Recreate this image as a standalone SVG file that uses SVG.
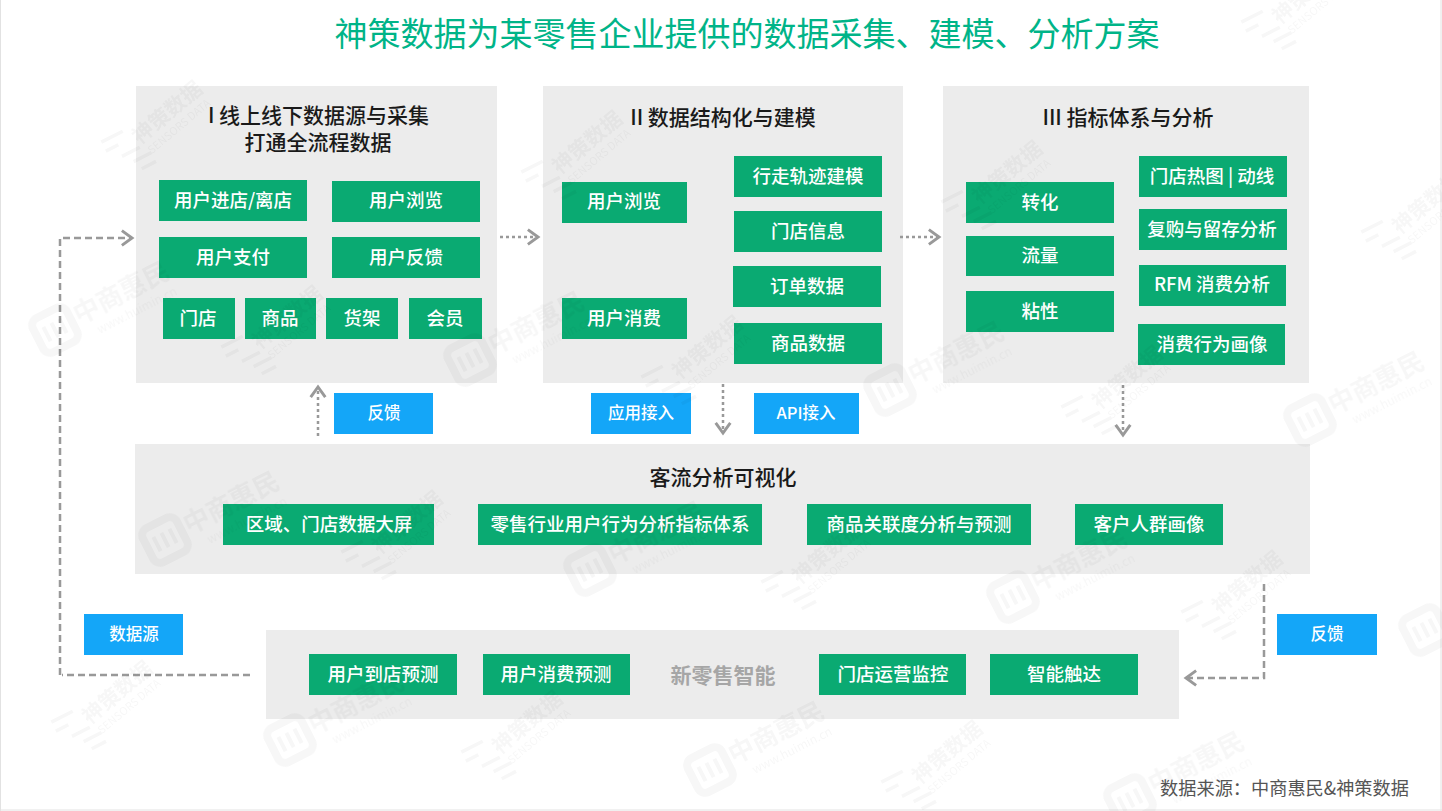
<svg xmlns="http://www.w3.org/2000/svg" width="1442" height="811" viewBox="0 0 1442 811">
<style>
text{font-family:"Noto Sans CJK SC","Liberation Sans",sans-serif;text-anchor:middle}
.panel{fill:#ececec}
.g{fill:#0aaa72}
.b{fill:#14a6f8}
.l{fill:#fff;font-size:18.5px;font-weight:500}
.bl{fill:#fff;font-size:16.5px;font-weight:500}
.h{fill:#1a1a1a;font-size:21px;font-weight:500}
.dash{fill:none;stroke:#999;stroke-width:2.5;stroke-dasharray:7 4}
.dot{fill:none;stroke:#999;stroke-width:2.5;stroke-dasharray:3 3}
</style>
<defs>
<marker id="ah" markerUnits="userSpaceOnUse" markerWidth="18" markerHeight="18" refX="12" refY="8" orient="auto" viewBox="0 0 16 16"><path d="M3 1.5L12 8L3 14.5" fill="none" stroke="#999" stroke-width="2.6"/></marker>
<g id="wz"><g transform="rotate(-27)"><rect x="-19" y="-19" width="38" height="38" rx="8" fill="none" stroke="#000" stroke-width="8"/><path d="M-9 -8V8M0 -8V8M9 -8V8" stroke="#000" stroke-width="4"/><text x="76" y="6" font-size="26" style="font-weight:700">中商惠民</text><text x="82" y="24" font-size="12">www.huimin.cn</text></g></g>
<g id="ws"><g transform="rotate(-27)"><path d="M-22 -20h24M-22 -10h14M-10 2h20M-2 12h20M2 22h16" fill="none" stroke="#000" stroke-width="3.5"/></g><g transform="translate(42,-32) rotate(-40)"><text x="0" y="0" font-size="21" style="font-weight:700">神策数据</text><text x="0" y="15" font-size="11">SENSORS DATA</text></g></g>
</defs>
<rect width="1442" height="811" fill="#fff"/>
<path d="M0.5 0V811M0 810H1442M1441 0V811" stroke="#e2e2e2" fill="none"/>
<g id="panels">
<rect class="panel" x="136" y="86" width="361" height="297"/>
<rect class="panel" x="543" y="86" width="360" height="297"/>
<rect class="panel" x="943" y="86" width="366" height="297"/>
<rect class="panel" x="135" y="444" width="1175" height="130"/>
<rect class="panel" x="266" y="630" width="913" height="89"/>
</g>
<text x="747" y="46" font-size="33" fill="#00b488">神策数据为某零售企业提供的数据采集、建模、分析方案</text>
<g id="connectors">
<path class="dash" d="M60 675V238H132" marker-end="url(#ah)"/>
<path class="dash" d="M250 675H62"/>
<path class="dot" d="M500 237H538" marker-end="url(#ah)"/>
<path class="dot" d="M900 237H939" marker-end="url(#ah)"/>
<path class="dot" d="M318 436V387" marker-end="url(#ah)"/>
<path class="dot" d="M723 384V433" marker-end="url(#ah)"/>
<path class="dot" d="M1123 385V435" marker-end="url(#ah)"/>
<path class="dash" d="M1264 584V678H1186" marker-end="url(#ah)"/>
</g>
<g id="n-p1"><text class="h"><tspan x="318.500" y="123">I 线上线下数据源与采集</tspan><tspan x="318" y="150">打通全流程数据</tspan></text></g>
<g id="n-p2"><text class="h" x="723" y="125">II 数据结构化与建模</text></g>
<g id="n-p3"><text class="h" x="1128" y="125">III 指标体系与分析</text></g>
<g id="n-p4"><text class="h" x="723" y="485">客流分析可视化</text></g>
<g id="n-p5"><text x="723" y="683" font-size="21" style="font-weight:700" fill="#a6a6a6">新零售智能</text></g>
<g id="n1"><rect class="g" x="159" y="180" width="148" height="41"/><text class="l" x="233" y="207">用户进店/离店</text></g>
<g id="n2"><rect class="g" x="332" y="181" width="148" height="41"/><text class="l" x="406" y="207">用户浏览</text></g>
<g id="n3"><rect class="g" x="159" y="237" width="148" height="41"/><text class="l" x="233" y="264">用户支付</text></g>
<g id="n4"><rect class="g" x="332" y="237" width="148" height="41"/><text class="l" x="406" y="264">用户反馈</text></g>
<g id="n5"><rect class="g" x="163" y="298" width="72" height="41"/><text class="l" x="198" y="325">门店</text></g>
<g id="n6"><rect class="g" x="245" y="298" width="71" height="41"/><text class="l" x="280" y="325">商品</text></g>
<g id="n7"><rect class="g" x="326" y="298" width="72" height="41"/><text class="l" x="362" y="325">货架</text></g>
<g id="n8"><rect class="g" x="409" y="298" width="73" height="41"/><text class="l" x="445" y="325">会员</text></g>
<g id="n9"><rect class="g" x="562" y="182" width="125" height="41"/><text class="l" x="624" y="208">用户浏览</text></g>
<g id="n10"><rect class="g" x="562" y="298" width="125" height="41"/><text class="l" x="624" y="325">用户消费</text></g>
<g id="n11"><rect class="g" x="734" y="156" width="148" height="41"/><text class="l" x="808" y="183">行走轨迹建模</text></g>
<g id="n12"><rect class="g" x="734" y="211" width="148" height="41"/><text class="l" x="808" y="238">门店信息</text></g>
<g id="n13"><rect class="g" x="733" y="266" width="148" height="41"/><text class="l" x="807" y="293">订单数据</text></g>
<g id="n14"><rect class="g" x="734" y="323" width="148" height="41"/><text class="l" x="808" y="350">商品数据</text></g>
<g id="n15"><rect class="g" x="966" y="182" width="148" height="41"/><text class="l" x="1040" y="209">转化</text></g>
<g id="n16"><rect class="g" x="966" y="236" width="148" height="40"/><text class="l" x="1040" y="262">流量</text></g>
<g id="n17"><rect class="g" x="966" y="291" width="148" height="41"/><text class="l" x="1040" y="318">粘性</text></g>
<g id="n18"><rect class="g" x="1139" y="156" width="148" height="41"/><text class="l" x="1212" y="183">门店热图 | 动线</text></g>
<g id="n19"><rect class="g" x="1139" y="209" width="148" height="41"/><text class="l" x="1212" y="236">复购与留存分析</text></g>
<g id="n20"><rect class="g" x="1139" y="265" width="147" height="41"/><text class="l" x="1212" y="291">RFM 消费分析</text></g>
<g id="n21"><rect class="g" x="1138" y="324" width="147" height="41"/><text class="l" x="1212" y="351">消费行为画像</text></g>
<g id="n22"><rect class="g" x="223" y="504" width="211" height="41"/><text class="l" x="329" y="531">区域、门店数据大屏</text></g>
<g id="n23"><rect class="g" x="478" y="504" width="284" height="41"/><text class="l" x="620" y="531">零售行业用户行为分析指标体系</text></g>
<g id="n24"><rect class="g" x="807" y="504" width="224" height="41"/><text class="l" x="919" y="531">商品关联度分析与预测</text></g>
<g id="n25"><rect class="g" x="1075" y="504" width="148" height="41"/><text class="l" x="1149" y="531">客户人群画像</text></g>
<g id="n26"><rect class="g" x="309" y="654" width="148" height="41"/><text class="l" x="383" y="681">用户到店预测</text></g>
<g id="n27"><rect class="g" x="483" y="654" width="147" height="41"/><text class="l" x="556" y="681">用户消费预测</text></g>
<g id="n28"><rect class="g" x="819" y="654" width="147" height="41"/><text class="l" x="893" y="681">门店运营监控</text></g>
<g id="n29"><rect class="g" x="990" y="654" width="148" height="41"/><text class="l" x="1064" y="681">智能触达</text></g>
<g id="n30"><rect class="b" x="334" y="393" width="99" height="41"/><text class="bl" x="384" y="419">反馈</text></g>
<g id="n31"><rect class="b" x="591" y="393" width="100" height="41"/><text class="bl" x="641" y="419">应用接入</text></g>
<g id="n32"><rect class="b" x="754" y="393" width="105" height="41"/><text class="bl" x="806" y="419">API接入</text></g>
<g id="n33"><rect class="b" x="84" y="614" width="99" height="41"/><text class="bl" x="134" y="640">数据源</text></g>
<g id="n34"><rect class="b" x="1277" y="614" width="100" height="41"/><text class="bl" x="1327" y="640">反馈</text></g>
<text x="1284.500" y="795" font-size="18.200" fill="#555">数据来源：中商惠民&amp;神策数据</text>
<g id="watermarks" opacity=".035">
<use href="#wz" x="55" y="330"/><use href="#wz" x="470" y="360"/><use href="#wz" x="890" y="390"/><use href="#wz" x="1310" y="420"/>
<use href="#wz" x="165" y="540"/><use href="#wz" x="590" y="570"/><use href="#wz" x="1013" y="597"/><use href="#wz" x="1425" y="630"/>
<use href="#wz" x="290" y="740"/><use href="#wz" x="710" y="770"/><use href="#wz" x="1130" y="800"/>
<use href="#ws" x="1210" y="620"/><use href="#ws" x="790" y="590"/><use href="#ws" x="370" y="560"/>
<use href="#ws" x="1090" y="415"/><use href="#ws" x="670" y="385"/><use href="#ws" x="250" y="355"/>
<use href="#ws" x="1390" y="240"/><use href="#ws" x="970" y="210"/><use href="#ws" x="550" y="180"/><use href="#ws" x="130" y="150"/>
<use href="#ws" x="1270" y="30"/><use href="#ws" x="80" y="730"/><use href="#ws" x="490" y="760"/><use href="#ws" x="910" y="790"/>
</g>
</svg>
